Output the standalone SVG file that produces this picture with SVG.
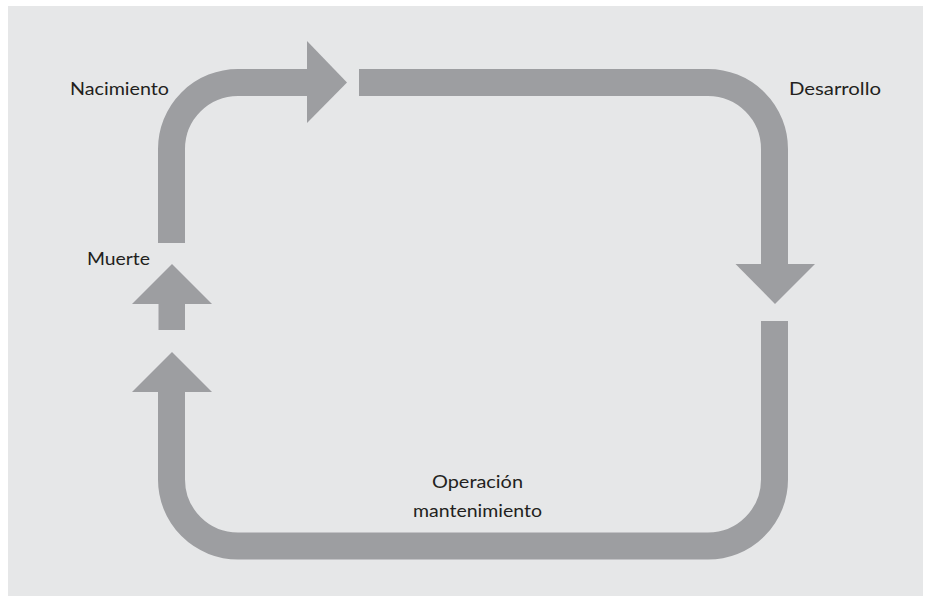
<svg xmlns="http://www.w3.org/2000/svg" width="925" height="597" viewBox="0 0 925 597">
  <style>
    .band { fill: none; stroke: #9d9ea1; stroke-width: 27; stroke-linecap: butt; }
    .head { fill: #9d9ea1; stroke: none; }
    .lbl { font-family: "Lato", "Liberation Sans", sans-serif; font-size: 18px; fill: #231f20; }
  </style>
  <rect x="0" y="0" width="925" height="597" fill="#ffffff"/>
  <rect x="8" y="6" width="915" height="590" fill="#e6e7e8"/>
  <g id="connectors">
    <path class="band" d="M171.5,243 V149 A66.5,66.5 0 0 1 238,82.5 H308"/>
    <polygon class="head" points="307,41 347,82.5 307,123"/>
    <path class="band" d="M359,82.5 H708 A66.5,66.5 0 0 1 774.5,149 V265"/>
    <polygon class="head" points="735.5,264 815,264 775,304"/>
    <path class="band" d="M774.5,321 V479.5 A66.5,66.5 0 0 1 708,546 H238 A66.5,66.5 0 0 1 171.5,479.5 V391"/>
    <polygon class="head" points="132,392 212,392 172,352"/>
    <rect class="head" x="158.5" y="303" width="26.5" height="27"/>
    <polygon class="head" points="132,304 212,304 172,264"/>
  </g>
  <g id="nacimiento">
    <text class="lbl" x="70" y="95" textLength="99" lengthAdjust="spacingAndGlyphs">Nacimiento</text>
  </g>
  <g id="desarrollo">
    <text class="lbl" x="789" y="95" textLength="92" lengthAdjust="spacingAndGlyphs">Desarrollo</text>
  </g>
  <g id="muerte">
    <text class="lbl" x="87" y="265" textLength="63" lengthAdjust="spacingAndGlyphs">Muerte</text>
  </g>
  <g id="operacion">
    <text class="lbl" x="432" y="488" textLength="91" lengthAdjust="spacingAndGlyphs">Operación</text>
    <text class="lbl" x="413" y="517" textLength="129" lengthAdjust="spacingAndGlyphs">mantenimiento</text>
  </g>
</svg>
